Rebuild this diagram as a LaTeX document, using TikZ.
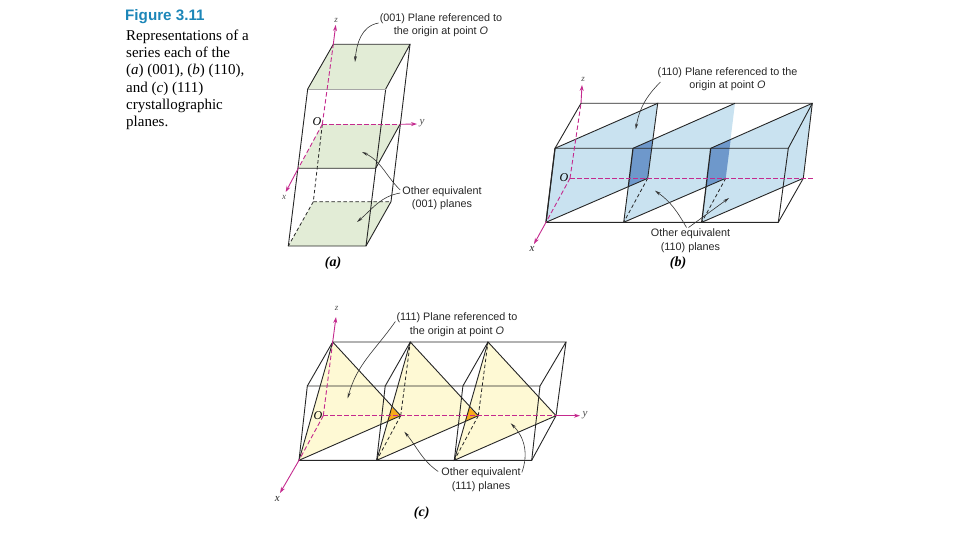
\documentclass[tikz,border=0pt]{standalone}
\usepackage{fontspec}
\setmainfont{Liberation Serif}
\setsansfont{Liberation Sans}
\usetikzlibrary{arrows.meta}
\definecolor{planegreen}{HTML}{E2ECD6}
\definecolor{planeblue}{HTML}{C9E2F0}
\definecolor{overlapblue}{HTML}{6E98CB}
\definecolor{planeyellow}{HTML}{FEF9D4}
\definecolor{overlaporange}{HTML}{F8AB1C}
\definecolor{axismagenta}{HTML}{C42A8E}
\definecolor{titleblue}{HTML}{1C86B8}
\tikzset{
  edge/.style={draw=black!85, line width=0.9pt},
  hidden/.style={draw=black!85, line width=0.8pt, dashed, dash pattern=on 3.5pt off 2.5pt},
  axis/.style={draw=axismagenta, line width=0.9pt, -{Stealth[length=6pt,width=4pt]}},
  axisdash/.style={draw=axismagenta, line width=0.9pt, dash pattern=on 4.5pt off 2.5pt},
  leader/.style={draw=black!80, line width=0.6pt, -{Stealth[length=6pt,width=3pt]}},
  caption/.style={font=\sffamily\fontsize{10.8}{13.5}\selectfont, align=center, text=black!85, inner sep=0pt},
  axislabel/.style={font=\itshape\fontsize{9}{9}\selectfont, text=black!70, inner sep=0pt},
  originlabel/.style={font=\itshape\fontsize{12}{12}\selectfont, text=black, inner sep=0pt},
  partlabel/.style={font=\bfseries\itshape\fontsize{14}{14}\selectfont, inner sep=0pt}
}
\begin{document}
\begin{tikzpicture}[x=1pt, y=-1pt]
  \useasboundingbox (0,0) rectangle (960,540);

  % Side text
  \node[anchor=west, inner sep=0pt, text=titleblue, font=\sffamily\bfseries\fontsize{15.2}{15.2}\selectfont] (figtitle) at (125,17) {Figure 3.11};
  \node[anchor=north west, inner sep=0pt, align=left, font=\fontsize{15}{17.3}\selectfont] (figtext) at (126,29.5)
    {Representations of a\\ series each of the\\ (\textit{a}) (001), (\textit{b}) (110),\\ and (\textit{c}) (111)\\ crystallographic\\ planes.};

  % (a) planes
  \fill[planegreen] (333.3,44.3) -- (410,44.3) -- (385.7,89) -- (307.7,89) -- cycle;
  \fill[planegreen] (322.3,124.3) -- (400,124.3) -- (375.7,168.3) -- (298.3,168.3) -- cycle;
  \fill[planegreen] (313.3,201.7) -- (391,201.7) -- (366,246) -- (288.3,246) -- cycle;
  % (a) hidden edges
  \draw[hidden] (322.3,124.3) -- (313.3,201.7) -- (391,201.7);
  \draw[hidden] (313.3,201.7) -- (288.3,246);
  % (a) cell edges
  \draw[edge] (333.3,44.3) -- (410,44.3) -- (385.7,89);
  \draw[edge] (333.3,44.3) -- (307.7,89) -- (288.3,246) -- (366,246) -- (385.7,89);
  \draw[edge, draw=black!35] (307.7,89) -- (385.7,89);
  \draw[edge] (410,44.3) -- (391,201.7) -- (366,246);
  \draw[edge] (298.3,168.3) -- (375.7,168.3) -- (400,124.3);
  % (a) axes
  \draw[axisdash] (322.3,124.3) -- (400,124.3);
  \draw[axisdash] (322.3,124.3) -- (333.3,44.3);
  \draw[axisdash] (322.3,124.3) -- (298.3,168.3);
  \draw[axis] (333.3,44.3) -- (335.7,25);
  \draw[axis] (400,124.3) -- (417,124);
  \draw[axis] (298.3,168.3) -- (285.7,192);
  \node[axislabel] (az) at (336,20) {z};
  \node[axislabel, font=\itshape\fontsize{11}{11}\selectfont] (ay) at (422,123) {y};
  \node[axislabel] (ax) at (284,197) {x};
  \node[originlabel] (ao) at (317,122) {O};
  % (a) labels
  \node[caption] (acap) at (441,25) {(001) Plane referenced to\\ the origin at point \textit{O}};
  \node[caption] (aother) at (442,198) {Other equivalent\\ (001) planes};
  \node[partlabel] (apart) at (333,263) {(\textit{a})};
  \coordinate (atop) at (355,62);
  \coordinate (amid) at (362,152);
  \coordinate (abot) at (357,222);
  \draw[leader] (acap.west) ++(-1,-2) to[out=190, in=85] (atop);
  \draw[leader] (aother.west) ++(-2,-8) to[out=135, in=-25] (amid);
  \draw[leader] (aother.west) ++(-2,-5) to[out=190, in=40] (abot);

  % (b) planes
  \fill[planeblue] (546,222.3) -- (555,148.3) -- (657.7,103.3) -- (647.7,178.3) -- cycle;
  \fill[planeblue] (623.7,222.3) -- (633,148.3) -- (735,103.3) -- (725.7,178.3) -- cycle;
  \fill[planeblue] (701.7,222.3) -- (710.7,148.3) -- (812.3,103.3) -- (803.3,178.3) -- cycle;
  \fill[overlapblue] (633,148.3) -- (652.7,139.3) -- (647.7,178.3) -- (628.3,186.7) -- cycle;
  \fill[overlapblue] (710.7,148.3) -- (730.7,139.3) -- (725.7,178.3) -- (706,186.7) -- cycle;
  % (b) hidden edges
  \draw[hidden] (647.7,178.3) -- (623.7,222.3);
  \draw[hidden] (725.7,178.3) -- (701.7,222.3);
  % (b) cell edges
  \draw[edge] (555,148.3) -- (788.3,148.3) -- (778.3,222.3) -- (546,222.3) -- cycle;
  \draw[edge] (555,148.3) -- (581,103.3) -- (812.3,103.3) -- (788.3,148.3);
  \draw[edge] (812.3,103.3) -- (803.3,178.3) -- (778.3,222.3);
  \draw[edge] (555,148.3) -- (657.7,103.3) -- (647.7,178.3) -- (546,222.3);
  \draw[edge] (633,148.3) -- (735,103.3);
  \draw[edge] (628.3,186.7) -- (623.7,222.3);
  \draw[edge] (623.7,222.3) -- (725.7,178.3);
  \draw[edge] (710.7,148.3) -- (812.3,103.3);
  \draw[edge] (701.7,222.3) -- (803.3,178.3);
  \draw[edge, line width=1.2pt] (633,148.3) -- (628.3,186.7);
  \draw[edge, line width=1.2pt] (710.7,148.3) -- (701.7,222.3);
  \draw[edge, line width=1.2pt] (555,148.3) -- (546,222.3);
  % (b) axes
  \draw[axisdash] (570,178.3) -- (813,178.3);
  \draw[axisdash] (570,178.3) -- (581,103.3);
  \draw[axisdash] (570,178.3) -- (546,222.3);
  \draw[axis] (581,103.3) -- (582,85);
  \draw[axis] (546,222.3) -- (534,244);
  \node[axislabel] (bz) at (583,79) {z};
  \node[axislabel, text=black!85, font=\itshape\fontsize{11}{11}\selectfont] (bx) at (532,249) {x};
  \node[originlabel] (bo) at (564,178) {O};
  % (b) labels
  \node[caption] (bcap) at (727.5,79) {(110) Plane referenced to the\\ origin at point \textit{O}};
  \node[caption] (bother) at (690.5,240.5) {Other equivalent\\ (110) planes};
  \node[partlabel] (bpart) at (678,263) {(\textit{b})};
  \coordinate (bfirst) at (635.7,129.3);
  \coordinate (bsecond) at (655,190.7);
  \coordinate (bthird) at (729,198);
  \draw[leader] (bcap.west) ++(3,3) to[out=225, in=80] (bfirst);
  \draw[leader] (bother.north) ++(-4,-1) to[out=120, in=-35] (bsecond);
  \draw[leader] (bother.north) ++(-2,-1) -- (bthird);

  % (c) planes
  \fill[planeyellow] (299,460.3) -- (332.7,342) -- (400.7,415.7) -- cycle;
  \fill[planeyellow] (376.7,460.3) -- (410.3,342) -- (478.3,415.7) -- cycle;
  \fill[planeyellow] (454.3,460.3) -- (488,342) -- (556,415.7) -- cycle;
  \fill[overlaporange] (391.7,407.3) -- (400.7,415.7) -- (387.3,421.3) -- cycle;
  \fill[overlaporange] (469.3,407.3) -- (478.3,415.7) -- (465,421.3) -- cycle;
  % (c) hidden edges
  \draw[hidden] (400.7,415.7) -- (410.3,342);
  \draw[hidden] (400.7,415.7) -- (376.7,460.3);
  \draw[hidden] (478.3,415.7) -- (488,342);
  \draw[hidden] (478.3,415.7) -- (454.3,460.3);
  % (c) cell edges
  \draw[edge] (307.3,386) -- (540,386) -- (531.7,460.3) -- (299,460.3) -- cycle;
  \draw[edge] (332.7,342) -- (566,342) -- (540,386);
  \draw[edge] (332.7,342) -- (307.3,386);
  \draw[edge] (566,342) -- (556,415.7) -- (531.7,460.3);
  \draw[edge] (385.2,386) -- (410.3,342);
  \draw[edge] (385.2,386) -- (376.7,460.3);
  \draw[edge] (462.9,386) -- (488,342);
  \draw[edge] (462.9,386) -- (454.3,460.3);
  \draw[edge] (299,460.3) -- (332.7,342) -- (400.7,415.7) -- cycle;
  \draw[edge] (376.7,460.3) -- (410.3,342) -- (478.3,415.7) -- cycle;
  \draw[edge] (454.3,460.3) -- (488,342) -- (556,415.7) -- cycle;
  % (c) axes
  \draw[axisdash] (323.3,415.7) -- (556,415.7);
  \draw[axisdash] (323.3,415.7) -- (332.7,342);
  \draw[axisdash] (323.3,415.7) -- (299,460.3);
  \draw[axis] (332.7,342) -- (336,317);
  \draw[axis] (556,415.7) -- (580,415.7);
  \draw[axis] (299,460.3) -- (280,493);
  \node[axislabel] (cz) at (336.7,308) {z};
  \node[axislabel, font=\itshape\fontsize{11}{11}\selectfont] (cy) at (585,415) {y};
  \node[axislabel, text=black!85, font=\itshape\fontsize{11}{11}\selectfont] (cx) at (277.3,499) {x};
  \node[originlabel] (co) at (318,415.5) {O};
  % (c) labels
  \node[caption] (ccap) at (457,324.5) {(111) Plane referenced to\\ the origin at point \textit{O}};
  \node[caption] (cother) at (481,479.5) {Other equivalent\\ (111) planes};
  \node[partlabel] (cpart) at (421.7,513) {(\textit{c})};
  \coordinate (cfirst) at (347.7,398.3);
  \coordinate (csecond) at (404.3,431.7);
  \coordinate (cthird) at (510.7,423.3);
  \draw[leader] (ccap.west) ++(-1,-3) to[out=235, in=75] (cfirst);
  \draw[leader] (cother.west) ++(-3,-8) to[out=145, in=-50] (csecond);
  \draw[leader] (cother.east) ++(1,-7) to[out=70, in=-45] (cthird);
\end{tikzpicture}
\end{document}
